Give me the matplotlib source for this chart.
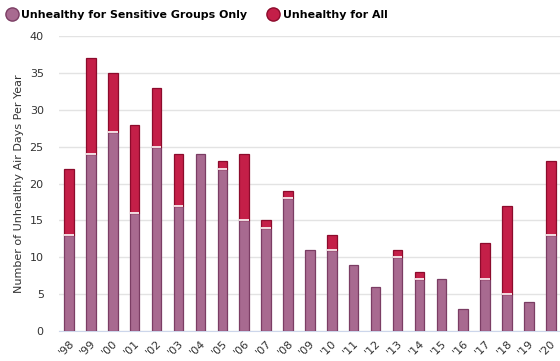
import matplotlib
matplotlib.use("Agg")
import matplotlib.pyplot as plt
from matplotlib.lines import Line2D
import numpy as np

years = ["'98", "'99", "'00", "'01", "'02", "'03", "'04", "'05", "'06", "'07", "'08",
         "'09", "'10", "'11", "'12", "'13", "'14", "'15", "'16", "'17", "'18", "'19", "'20"]
sensitive_only = [13, 24, 27, 16, 25, 17, 24, 22, 15, 14, 18, 11, 11, 9, 6, 10, 7, 7, 3, 7, 5, 4, 13]
unhealthy_all = [9, 13, 8, 12, 8, 7, 0, 1, 9, 1, 1, 0, 2, 0, 0, 1, 1, 0, 0, 5, 12, 0, 10]
y_ticks = [0, 5, 10, 15, 20, 25, 30, 35, 40]

c_sens = "#a86a90"
c_sens_edge = "#7b3d64"
c_all = "#c41f48"
c_all_edge = "#8c0b2c"

fig = plt.figure(figsize=(5.6, 3.61), dpi=100)
ax = fig.add_axes([59 / 560, 1 - 331 / 361, 501 / 560, 295 / 361])

x = np.arange(len(years))
w = 0.43
ax.bar(x, sensitive_only, width=w, color=c_sens, edgecolor=c_sens_edge, linewidth=0.9, zorder=3)
bot = np.array(sensitive_only)
vals = np.array(unhealthy_all)
mask = vals > 0
ax.bar(x[mask], vals[mask], bottom=bot[mask], width=w, color=c_all, edgecolor=c_all_edge,
       linewidth=0.9, zorder=3)
# thin white separator between stacked segments
ax.bar(x[mask], 0.0, bottom=bot[mask], width=w, edgecolor="white", linewidth=1.2, zorder=4)

ax.set_xlim(-0.457, 22.42)
ax.set_ylim(0, 40)
ax.set_yticks(y_ticks)
ax.set_yticklabels([str(v) for v in y_ticks], fontsize=8, color="#333333")
ax.set_xticks(x)
ax.set_xticklabels(years, rotation=45, ha="right", rotation_mode="anchor", fontsize=8, color="#333333")
ax.tick_params(axis="x", length=0, pad=5)
ax.tick_params(axis="y", length=0, pad=11)
ax.grid(axis="y", color="#e3e3e3", linewidth=1, zorder=0)
for s in ["top", "right", "left"]:
    ax.spines[s].set_visible(False)
ax.spines["bottom"].set_color("#ccd6eb")
ax.set_ylabel("Number of Unhealthy Air Days Per Year", fontsize=8.0, color="#333333", labelpad=4)

handles = [
    Line2D([], [], marker="o", linestyle="", markersize=9.5, markerfacecolor=c_sens, markeredgecolor=c_sens_edge),
    Line2D([], [], marker="o", linestyle="", markersize=9.5, markerfacecolor=c_all, markeredgecolor=c_all_edge),
]
fig.legend(handles, ["Unhealthy for Sensitive Groups Only", "Unhealthy for All"],
           loc="upper left", bbox_to_anchor=(-0.003, 0.995), ncol=2, frameon=False,
           prop={"weight": "bold", "size": 7.95}, handletextpad=0.35, columnspacing=1.9,
           borderaxespad=0.3, handlelength=1.0)

fig.savefig("out.png", dpi=100)
